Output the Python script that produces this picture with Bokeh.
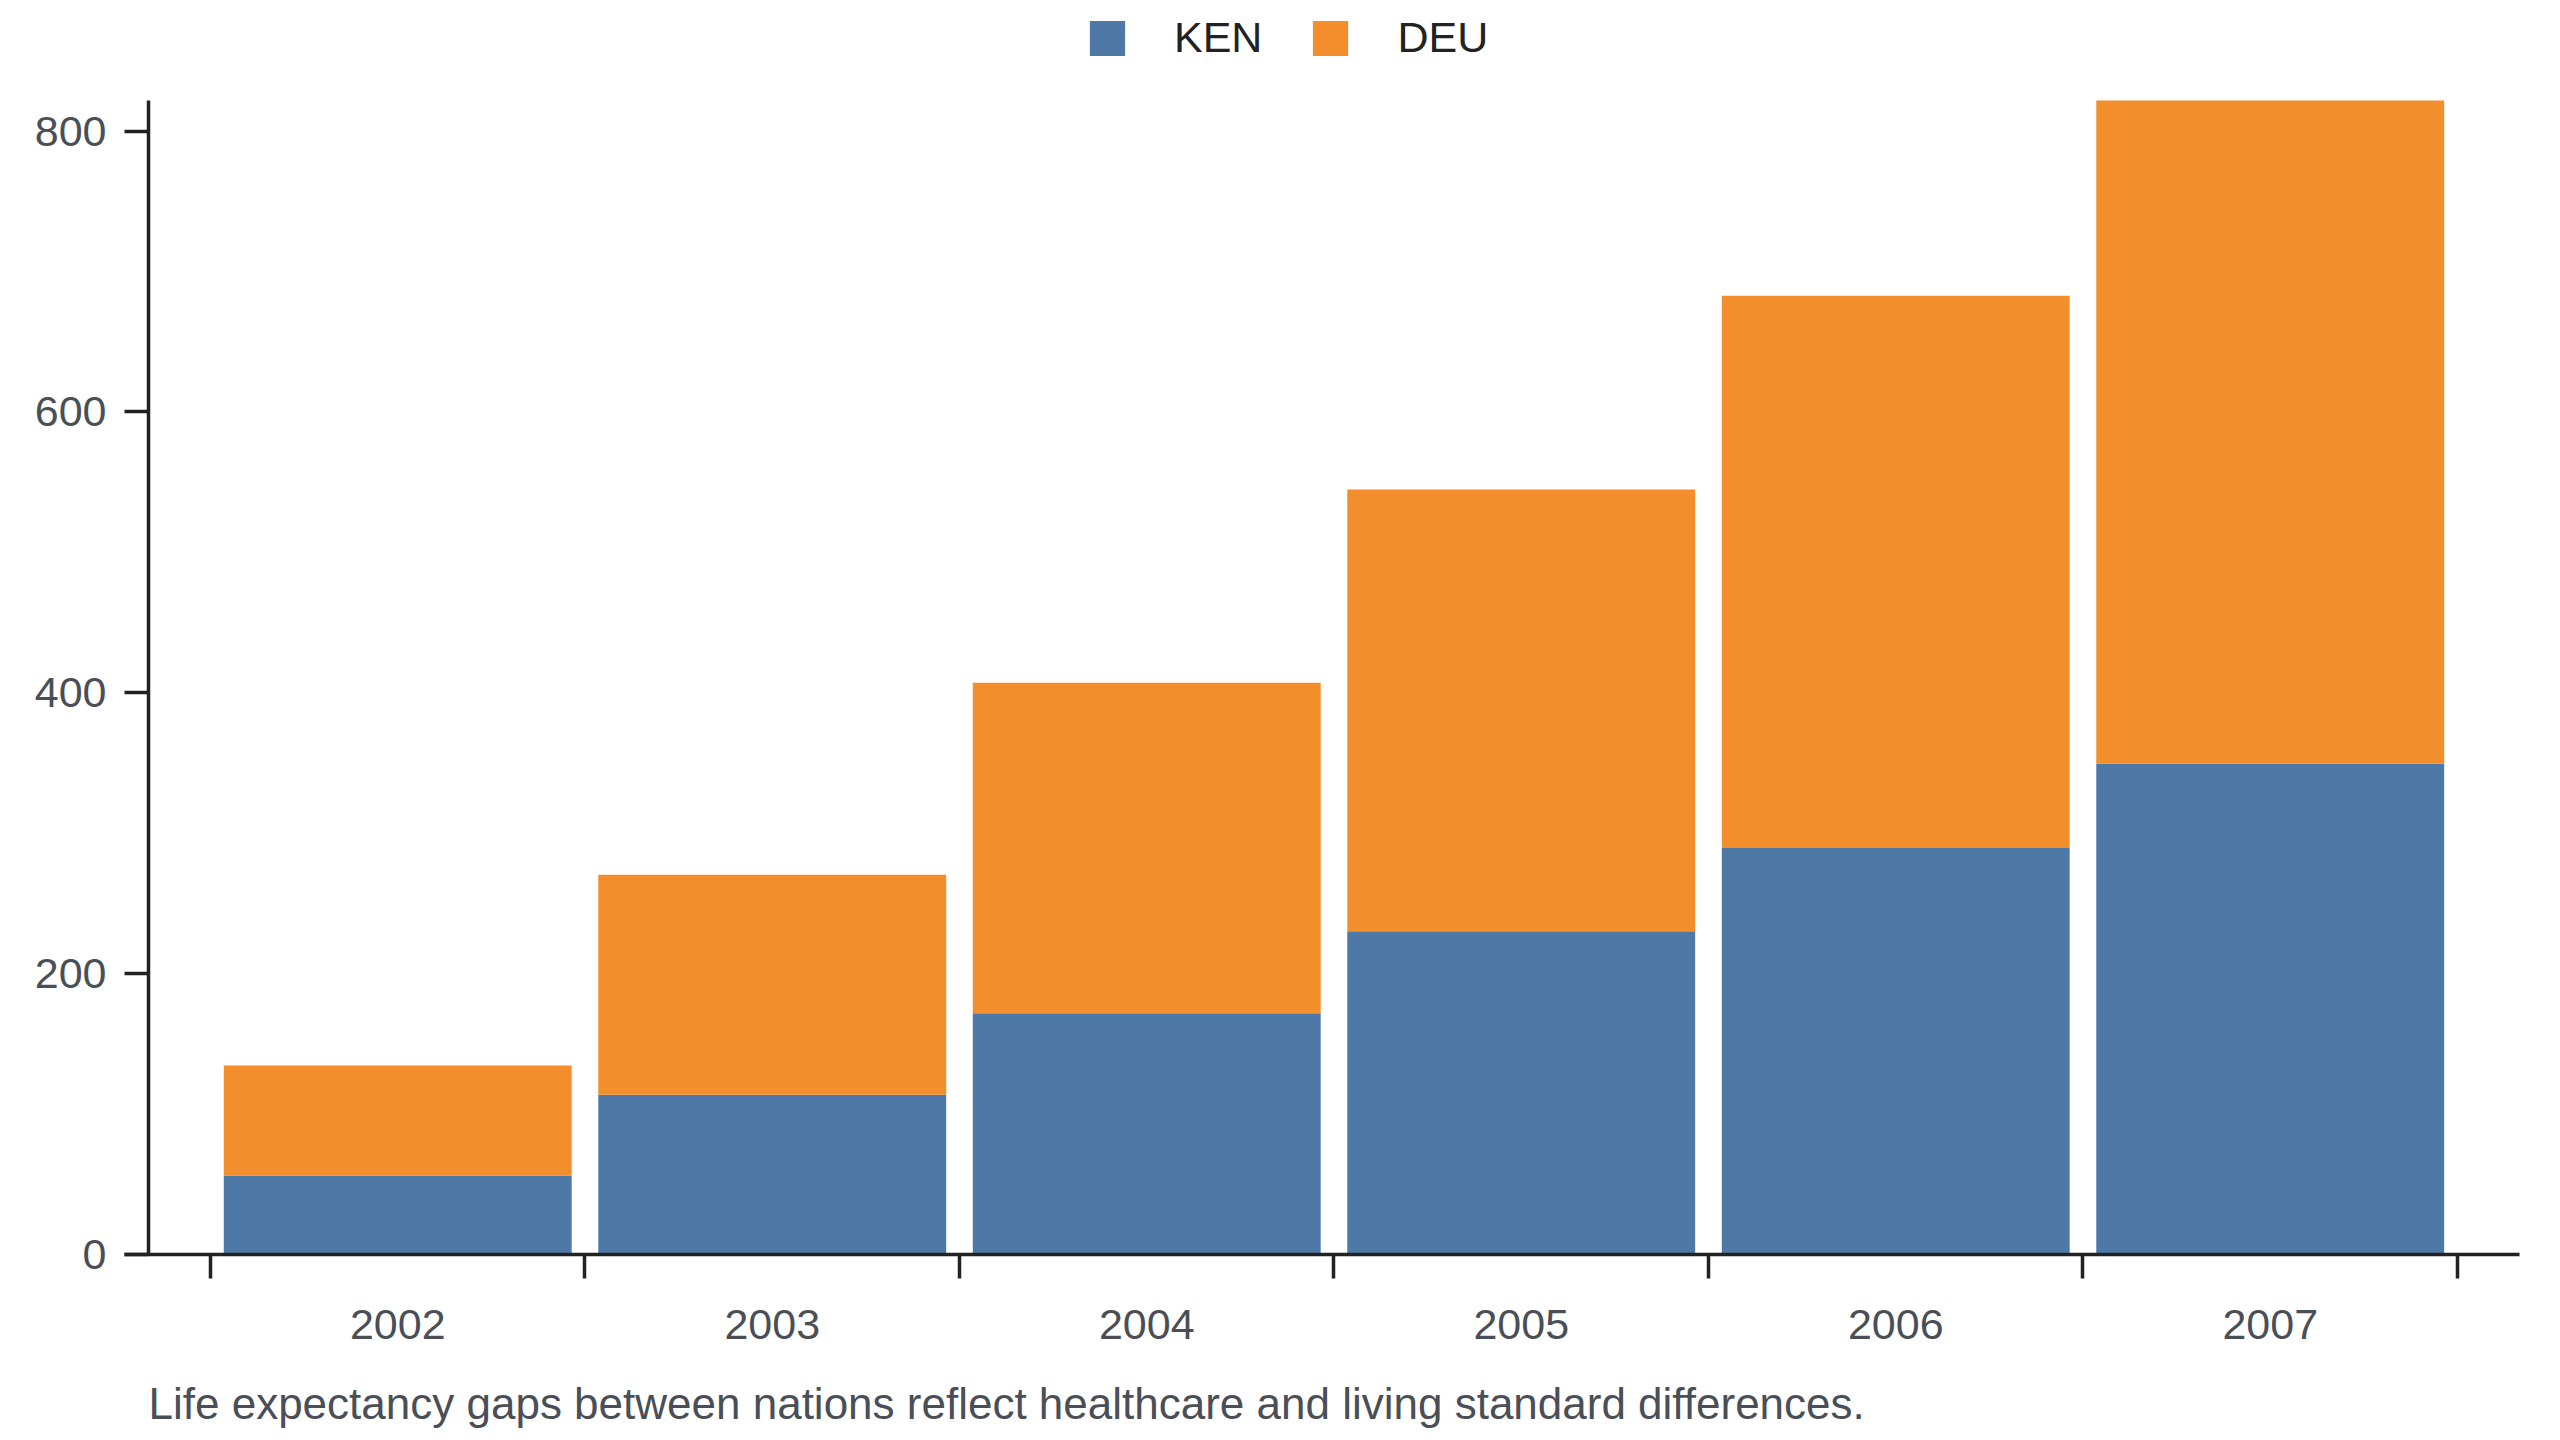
from bokeh.plotting import figure
from bokeh.models import (Range1d, FixedTicker, Legend, LegendItem, Title,
                          ColumnDataSource)
from bokeh.embed import file_html
from bokeh.resources import INLINE

# ---- data ----
years = [2002, 2003, 2004, 2005, 2006, 2007]
ken = [56.3, 113.7, 171.8, 230.2, 289.5, 349.5]
deu = [78.2, 156.8, 235.4, 314.5, 393.3, 472.3]
y_ticks = [0, 200, 400, 600, 800]
series = ["KEN", "DEU"]
colors = ["#4e79a7", "#f28e2b"]
caption = "Life expectancy gaps between nations reflect healthcare and living standard differences."

FONT = "Liberation Sans"
LABEL_COLOR = "#4a4f57"
AXIS_COLOR = "#222222"
AXIS_W = 3.5

totals = [k + d for k, d in zip(ken, deu)]
y_top = max(totals)
# frame reaches up to the legend row; the value axis stops at the tallest bar
y_end = y_top * 1247.0 / 1155.0
x_start, x_end = 2001.2704, 2007.6656
yaxis_x = 2001.3345

source = ColumnDataSource(dict(year=years, KEN=ken, DEU=deu))

p = figure(width=2540, height=1437, output_backend="svg", toolbar_location=None,
           x_range=Range1d(x_start, x_end), y_range=Range1d(0, y_end),
           min_border_left=124, min_border_right=21, min_border_top=8,
           min_border_bottom=182)
p.outline_line_color = None
p.xgrid.grid_line_color = None
p.ygrid.grid_line_color = None
p.background_fill_color = "white"

rs = p.vbar_stack(series, x="year", width=0.929, fill_color=colors,
                  line_color=None, source=source)

# value-axis line, from 0 to the top of the tallest bar
p.segment(x0=[yaxis_x], y0=[0], x1=[yaxis_x], y1=[y_top],
          line_color=AXIS_COLOR, line_width=AXIS_W)

# x axis: labels at centres, ticks at band edges
bounds = [y - 0.5 for y in years] + [years[-1] + 0.5]
xa = p.xaxis[0]
xa.ticker = FixedTicker(ticks=years, minor_ticks=bounds)
xa.major_tick_out = 0
xa.major_tick_in = 0
xa.minor_tick_out = 24
xa.minor_tick_in = 0
xa.minor_tick_line_width = AXIS_W
xa.minor_tick_line_color = AXIS_COLOR
xa.axis_line_width = AXIS_W
xa.axis_line_color = AXIS_COLOR
xa.major_label_text_font_size = "43px"
xa.major_label_text_font = FONT
xa.major_label_text_color = LABEL_COLOR
xa.major_label_standoff = 31

# y axis
ya = p.yaxis[0]
ya.ticker = FixedTicker(ticks=y_ticks, minor_ticks=[])
ya.axis_line_color = None
ya.major_tick_in = 24
ya.major_tick_out = 0
ya.major_tick_line_width = AXIS_W
ya.major_tick_line_color = AXIS_COLOR
ya.major_label_text_font_size = "43px"
ya.major_label_text_font = FONT
ya.major_label_text_color = LABEL_COLOR
ya.major_label_standoff = 18

legend = Legend(items=[LegendItem(label=s, renderers=[r]) for s, r in zip(series, rs)],
                orientation="horizontal", location=(961, 1192),
                glyph_width=44, glyph_height=44, label_standoff=45, spacing=46,
                padding=0, margin=0, border_line_color=None,
                background_fill_alpha=0,
                label_text_font_size="43px", label_text_font=FONT,
                label_text_color="#222222")
p.add_layout(legend, "center")

# blank gap between the year labels and the caption
p.add_layout(Title(text=" ", text_font_size="2px", standoff=21), "below")
p.add_layout(Title(text=caption, align="left", offset=24, text_font_size="44px",
                   text_font_style="normal", text_font=FONT, text_color=LABEL_COLOR,
                   standoff=20), "below")

open("out.html", "w").write(file_html(p, INLINE))
